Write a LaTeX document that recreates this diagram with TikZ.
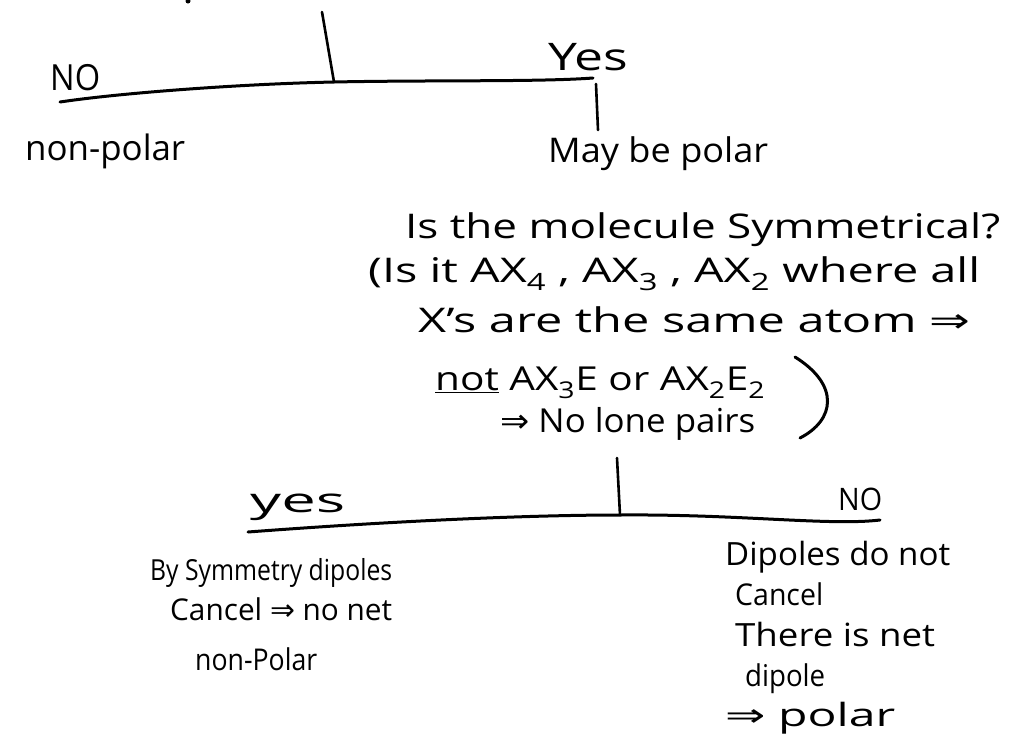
\documentclass[tikz,border=0pt]{standalone}
\usepackage{fontspec}
\usepackage{graphicx}
\setmainfont{Open Sans}
\newfontfamily\arrowfont{DejaVu Sans}
\newcommand\impl{{\arrowfont ⇒}}
% stretch a line of text to a given width, keeping its height
\newcommand\fitw[2]{\resizebox{#1}{\height}{#2}}
\newcommand\sub[1]{\textsubscript{#1}}
\begin{document}
\begin{tikzpicture}[x=1pt,y=-1pt,
  stroke/.style={line width=3pt,line cap=round,line join=round},
  tick/.style={line width=2.6pt,line cap=round},
  txt/.style={anchor=base west,inner sep=0pt,font=\fontsize{#1}{#1}\selectfont},
  txt/.default=32]
\useasboundingbox (0,0) rectangle (1031,745);

% ---- first branch: polar bonds? ----
\fill (188,1) circle (2.5);
\coordinate (qA) at (322,12);
\coordinate (topL) at (60,102);
\coordinate (topJ) at (334,82);
\coordinate (topR) at (593,78);
\coordinate (yesA) at (596,84);
\coordinate (yesB) at (598,130);
\draw[tick] (qA) -- (topJ);
\draw[stroke] (topL) .. controls (120,93) and (240,84) .. (topJ)
  .. controls (430,80) and (540,82) .. (topR);
\draw[tick] (yesA) -- (yesB);

\node[txt=36] (no1) at (50,90) {\fitw{50pt}{NO}};
\node[txt=38] (yes1) at (548,70) {\fitw{80pt}{Yes}};
\node[txt=35] (np1) at (25,160) {\fitw{160pt}{non-polar}};
\node[txt=34] (maybe) at (548,162) {\fitw{220pt}{May be polar}};

% ---- symmetry question ----
\node[txt=34] (q1) at (405,238) {\fitw{595pt}{Is the molecule Symmetrical?}};
\node[txt=34] (q2) at (368,282) {\fitw{612pt}{(Is it AX\sub{4} , AX\sub{3} , AX\sub{2} where all}};
\node[txt=34] (q3) at (418,332) {\fitw{552pt}{X's are the same atom \impl}};
\node[txt=33] (q4) at (435,390) {\fitw{330pt}{\underline{not} AX\sub{3}E or AX\sub{2}E\sub{2}}};
\node[txt=33] (q5) at (500,432) {\fitw{255pt}{\impl\ No lone pairs}};
\coordinate (brA) at (795,357);
\coordinate (brB) at (800,438);
\draw[stroke] (brA) .. controls (840,385) and (835,420) .. (brB);

% ---- second branch: symmetric? ----
\coordinate (sA) at (617,458);
\coordinate (sJ) at (620,515);
\coordinate (lowL) at (248,532);
\coordinate (lowR) at (880,520);
\draw[tick] (sA) -- (sJ);
\draw[stroke] (lowL) .. controls (380,522) and (520,515) .. (sJ)
  .. controls (740,514) and (830,526) .. (lowR);

\node[txt=34] (yes2) at (250,512) {\fitw{95pt}{yes}};
\node[txt=31] (no2) at (838,510) {\fitw{44pt}{NO}};

\node[txt=29] (l1) at (150,580) {\fitw{242pt}{By Symmetry dipoles}};
\node[txt=30] (l2) at (170,620) {\fitw{222pt}{Cancel \impl\ no net}};
\node[txt=30] (l3) at (195,670) {\fitw{122pt}{non-Polar}};

\node[txt=32] (r1) at (725,565) {\fitw{225pt}{Dipoles do not}};
\node[txt=30] (r2) at (735,605) {\fitw{88pt}{Cancel}};
\node[txt=32] (r3) at (735,646) {\fitw{200pt}{There is net}};
\node[txt=30] (r4) at (745,686) {\fitw{80pt}{dipole}};
\node[txt=32] (r5) at (725,726) {\fitw{170pt}{\impl\ polar}};
\end{tikzpicture}
\end{document}
